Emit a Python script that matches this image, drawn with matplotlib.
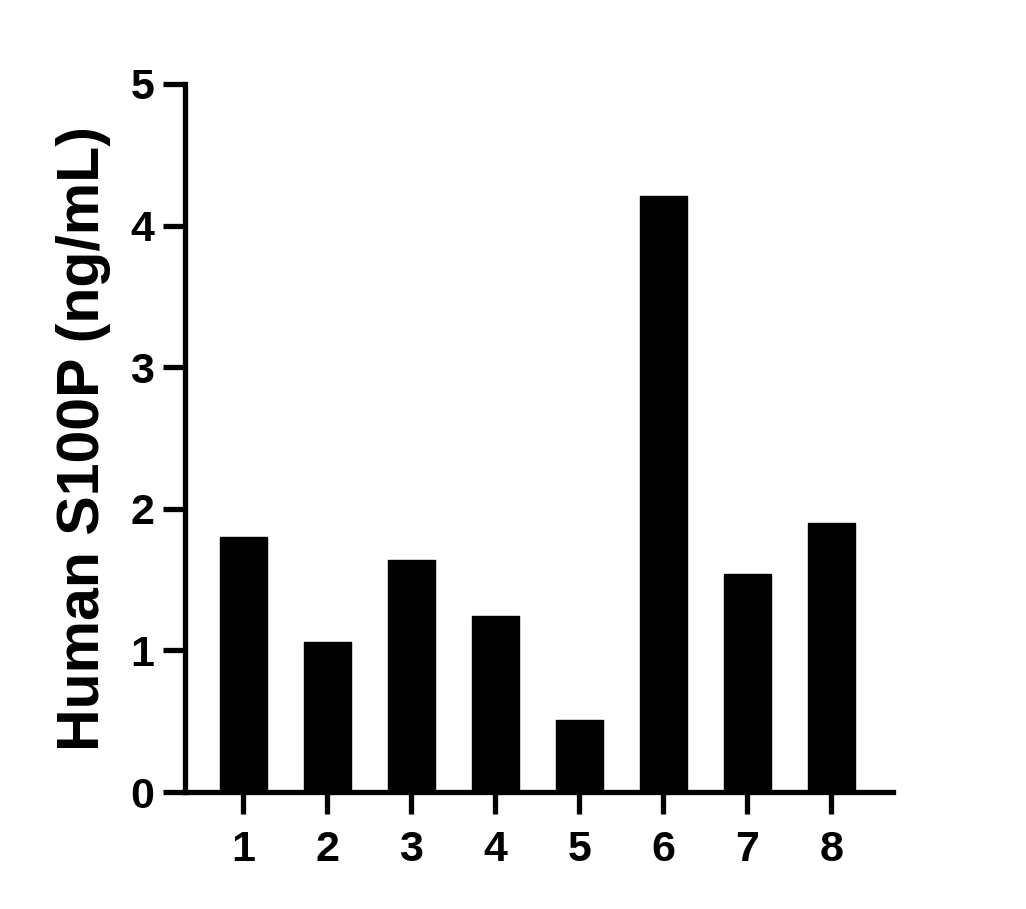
import matplotlib
matplotlib.use("Agg")
from matplotlib import pyplot as plt

plt.rcParams['font.family'] = ['Liberation Sans', 'DejaVu Sans']
plt.rcParams['font.weight'] = 'bold'

samples = ['1', '2', '3', '4', '5', '6', '7', '8']
s100p = [1.80, 1.06, 1.64, 1.24, 0.51, 4.21, 1.54, 1.90]
yticks = [0, 1, 2, 3, 4, 5]

fig = plt.figure(figsize=(10.26, 9.09), dpi=100)
ax = fig.add_axes([0.180, 0.1287, 0.690, 0.7789])

x = list(range(len(samples)))
ax.bar(x, s100p, width=0.56, color='black', edgecolor='black')

ax.set_xlim(-0.70, 7.73)
ax.set_ylim(0, 5)
ax.set_xticks(x)
ax.set_xticklabels(samples)
ax.set_yticks(yticks)
ax.set_yticklabels([str(t) for t in yticks])

for side in ['top', 'right']:
    ax.spines[side].set_visible(False)
for side in ['left', 'bottom']:
    ax.spines[side].set_linewidth(3.8)
    ax.spines[side].set_capstyle('projecting')

ax.tick_params(axis='both', width=3.8, length=16, labelsize=31)
ax.tick_params(axis='x', pad=11)
ax.tick_params(axis='y', pad=6)
ax.set_ylabel('Human S100P (ng/mL)', fontsize=42.5, fontweight='bold', labelpad=14)

plt.savefig("out.png", dpi=100)
plt.close()
